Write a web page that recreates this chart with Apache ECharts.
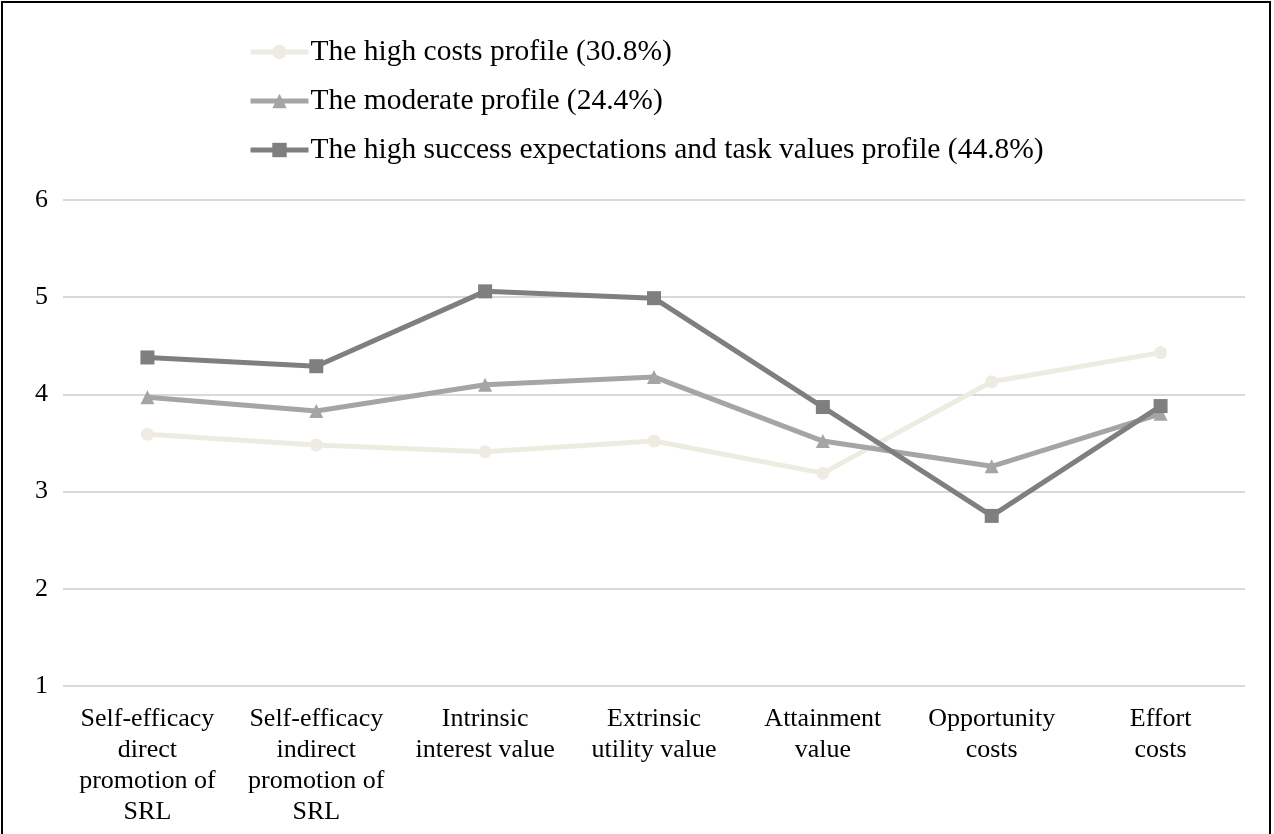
<!DOCTYPE html>
<html>
<head>
<meta charset="utf-8">
<script src="https://cdn.jsdelivr.net/npm/echarts@6/dist/echarts.min.js"></script>
<style>
html,body{margin:0;padding:0;background:#fff;}
#frame{position:absolute;left:1px;top:1px;width:1270px;height:840px;border:2px solid #000;border-bottom:none;box-sizing:border-box;}
#chart{position:absolute;left:0;top:0;width:1274px;height:834px;}
</style>
</head>
<body>
<div id="frame"></div>
<div id="chart"></div>
<script>
const categories = [
  'Self-efficacy\ndirect\npromotion of\nSRL',
  'Self-efficacy\nindirect\npromotion of\nSRL',
  'Intrinsic\ninterest value',
  'Extrinsic\nutility value',
  'Attainment\nvalue',
  'Opportunity\ncosts',
  'Effort\ncosts'
];
const seriesNames = [
  'The high costs profile (30.8%)',
  'The moderate profile (24.4%)',
  'The high success expectations and task values profile (44.8%)'
];
const highCosts = [3.59, 3.48, 3.41, 3.52, 3.19, 4.13, 4.43];
const moderate = [3.97, 3.83, 4.10, 4.18, 3.52, 3.26, 3.80];
const highSuccess = [4.38, 4.29, 5.06, 4.99, 3.87, 2.75, 3.88];
const yTicks = [1, 2, 3, 4, 5, 6];

const font = '"Liberation Serif", "Times New Roman", serif';
const chart = echarts.init(document.getElementById('chart'));
function mk(name, data, color, symbol, size) {
  return {
    name: name, type: 'line', data: data,
    symbol: symbol, symbolSize: size,
    lineStyle: {color: color, width: 5},
    itemStyle: {color: color},
    emphasis: {disabled: true},
    z: 2
  };
}
chart.setOption({
  animation: false,
  backgroundColor: 'transparent',
  legend: {
    orient: 'vertical',
    left: 243, top: 32,
    itemWidth: 58, itemHeight: 18,
    itemGap: 19,
    lineStyle: {width: 5},
    textStyle: {fontFamily: font, fontSize: 29.5, color: '#000', padding: [0,0,0,-3]},
    data: seriesNames
  },
  grid: {left: 63, right: 29, top: 200, bottom: 148},
  xAxis: {
    type: 'category', data: categories, boundaryGap: true,
    axisLine: {show: false}, axisTick: {show: false},
    axisLabel: {interval: 0, fontFamily: font, fontSize: 26, color: '#000', lineHeight: 31, margin: 18, align: 'center'}
  },
  yAxis: {
    type: 'value', min: yTicks[0], max: yTicks[yTicks.length-1], interval: 1,
    axisLine: {show: false}, axisTick: {show: false},
    splitLine: {lineStyle: {color: '#d9d9d9', width: 2}},
    axisLabel: {fontFamily: font, fontSize: 26, color: '#000', margin: 15}
  },
  series: [
    mk(seriesNames[0], highCosts, '#eeece1', 'circle', 13),
    mk(seriesNames[1], moderate, '#a5a5a5', 'triangle', 14),
    mk(seriesNames[2], highSuccess, '#7f7f7f', 'rect', 14)
  ]
});
</script>
</body>
</html>
